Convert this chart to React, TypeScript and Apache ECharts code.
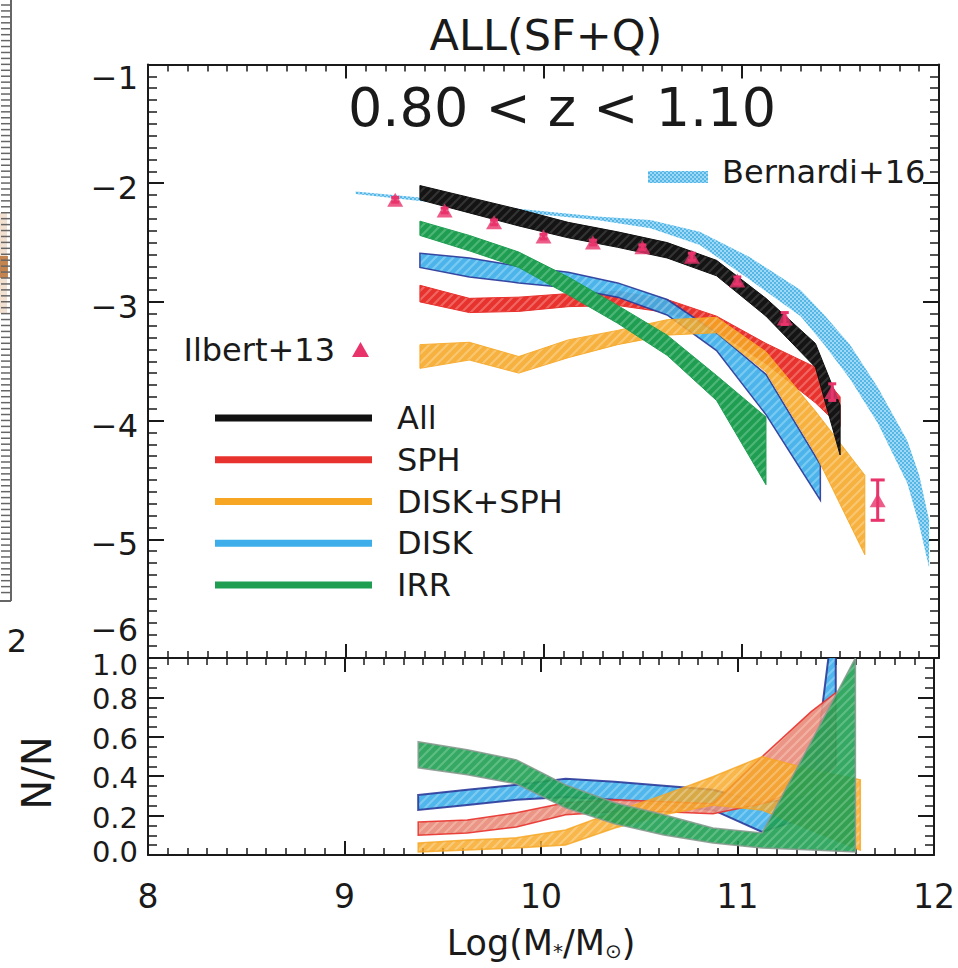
import React, { useEffect, useRef } from "react";
import * as echarts from "echarts";

const FONT = "DejaVu Sans";
const INK = "#1a1a1a";
const PINK = "#e8336b";

// ---- stellar-mass grids, log(M*/Msun) ----
const binsAll = [9.375, 9.625, 9.875, 10.125, 10.375, 10.625, 10.875, 11.125, 11.375, 11.5];
const binsDiskSph = [9.375, 9.625, 9.875, 10.125, 10.375, 10.625, 10.875, 11.125, 11.375, 11.625];
const binsDisk = [9.375, 9.625, 9.875, 10.125, 10.375, 10.625, 10.875, 11.125, 11.4];
const binsIrr = [9.375, 9.625, 9.875, 10.125, 10.375, 10.625, 10.875, 11.125];
const fracBinsIrr = [9.375, 9.625, 9.875, 10.125, 10.375, 10.625, 10.875, 11.125, 11.375, 11.6];

// ---- log Phi envelopes (upper / lower) ----
const allHi = [-2.02, -2.12, -2.22, -2.33, -2.41, -2.5, -2.65, -2.97, -3.35, -3.87];
const allLo = [-2.14, -2.25, -2.36, -2.46, -2.54, -2.63, -2.78, -3.12, -3.55, -4.29];
const sphHi = [-2.86, -2.97, -2.96, -2.93, -2.91, -2.98, -3.12, -3.35, -3.55, -3.8];
const sphLo = [-3.0, -3.09, -3.08, -3.04, -3.03, -3.09, -3.25, -3.52, -3.85, -4.05];
const diskSphHi = [-3.36, -3.34, -3.46, -3.32, -3.24, -3.15, -3.13, -3.42, -3.92, -4.46];
const diskSphLo = [-3.56, -3.49, -3.6, -3.47, -3.36, -3.28, -3.26, -3.59, -4.28, -5.13];
const diskHi = [-2.59, -2.63, -2.7, -2.75, -2.84, -2.98, -3.26, -3.61, -4.37];
const diskLo = [-2.71, -2.79, -2.84, -2.88, -2.96, -3.11, -3.41, -3.95, -4.67];
const irrHi = [-2.32, -2.44, -2.58, -2.79, -3.03, -3.28, -3.62, -3.97];
const irrLo = [-2.44, -2.57, -2.71, -2.94, -3.18, -3.45, -3.83, -4.54];

// ---- Bernardi+16 ----
const bernardiX = [9.05, 9.375, 9.78, 10.27, 10.54, 10.79, 11.04, 11.3, 11.42, 11.55, 11.69, 11.84, 11.9, 11.95];
const bernardiHi = [-2.07, -2.12, -2.2, -2.28, -2.31, -2.41, -2.62, -2.9, -3.11, -3.36, -3.72, -4.17, -4.46, -4.84];
const bernardiLo = [-2.09, -2.15, -2.23, -2.31, -2.38, -2.52, -2.81, -3.12, -3.36, -3.65, -4.02, -4.53, -4.88, -5.24];

// ---- Ilbert+13 ----
const ilbertX = [9.25, 9.5, 9.75, 10.0, 10.25, 10.5, 10.75, 10.98, 11.22, 11.46, 11.69];
const ilbertY = [-2.14, -2.23, -2.33, -2.45, -2.5, -2.54, -2.62, -2.82, -3.14, -3.76, -4.67];
const ilbertErr = [0.02, 0.02, 0.02, 0.02, 0.02, 0.02, 0.03, 0.03, 0.05, 0.07, 0.17];

// ---- fractions N/N ----
const sphFracHi = [0.168, 0.178, 0.214, 0.265, 0.28, 0.27, 0.26, 0.499, 0.728, 0.824];
const sphFracLo = [0.1, 0.112, 0.142, 0.204, 0.219, 0.22, 0.21, 0.26, 0.35, 0.45];
const diskFracHi = [0.305, 0.331, 0.356, 0.387, 0.372, 0.351, 0.331, 0.265, 0.3, 1.3];
const diskFracLo = [0.229, 0.254, 0.28, 0.295, 0.28, 0.254, 0.229, 0.117, 0.2, 0.82];
const diskSphFracHi = [0.061, 0.076, 0.087, 0.127, 0.219, 0.305, 0.397, 0.499, 0.433, 0.382];
const diskSphFracLo = [0.015, 0.025, 0.036, 0.051, 0.137, 0.204, 0.254, 0.229, 0.127, 0.025];
const irrFracHi = [0.575, 0.534, 0.483, 0.356, 0.265, 0.204, 0.137, 0.112, 0.575, 1.0];
const irrFracLo = [0.443, 0.407, 0.361, 0.239, 0.158, 0.102, 0.061, 0.036, 0.025, 0.015];

const legendNames = ["All", "SPH", "DISK+SPH", "DISK", "IRR"];
const legendColors = ["#111111", "#e8322e", "#f6a623", "#3daee9", "#1f9e52"];

function hatch(base: string, stripe: string, size = 9, lw = 2.2) {
  const c = document.createElement("canvas");
  c.width = size;
  c.height = size;
  const g = c.getContext("2d")!;
  g.fillStyle = base;
  g.fillRect(0, 0, size, size);
  g.strokeStyle = stripe;
  g.lineWidth = lw;
  g.beginPath();
  g.moveTo(-size / 2, size / 2);
  g.lineTo(size / 2, -size / 2);
  g.moveTo(0, size);
  g.lineTo(size, 0);
  g.moveTo(size / 2, size * 1.5);
  g.lineTo(size * 1.5, size / 2);
  g.stroke();
  return { image: c, repeat: "repeat", imageWidth: size, imageHeight: size };
}

function dots(base: string, dot: string) {
  const c = document.createElement("canvas");
  c.width = 4;
  c.height = 4;
  const g = c.getContext("2d")!;
  g.fillStyle = base;
  g.fillRect(0, 0, 4, 4);
  g.fillStyle = dot;
  g.fillRect(0, 0, 2, 2);
  g.fillRect(2, 2, 2, 2);
  return { image: c, repeat: "repeat", imageWidth: 4, imageHeight: 4 };
}

function band(
  name: string,
  xs: number[],
  lo: number[],
  hi: number[],
  o: { xi: number; yi: number; z: number; fill: any; stroke?: string; lw?: number; opacity?: number; color: string }
) {
  return {
    type: "custom",
    name,
    xAxisIndex: o.xi,
    yAxisIndex: o.yi,
    z: o.z,
    clip: true,
    silent: true,
    itemStyle: { color: o.color },
    data: xs.map((x, i) => [x, lo[i], hi[i]]),
    encode: { x: 0, y: [1, 2] },
    renderItem: (params: any, api: any) => {
      if (params.dataIndexInside !== 0) return null;
      const n = params.dataInsideLength;
      const top: number[][] = [];
      const bot: number[][] = [];
      for (let i = 0; i < n; i++) {
        const x = api.value(0, i);
        top.push(api.coord([x, api.value(2, i)]));
        bot.push(api.coord([x, api.value(1, i)]));
      }
      return {
        type: "polygon",
        shape: { points: top.concat(bot.reverse()) },
        style: {
          fill: o.fill,
          stroke: o.stroke || "none",
          lineWidth: o.lw || 0,
          opacity: o.opacity == null ? 1 : o.opacity,
        },
      };
    },
  };
}

const minus = (v: number) => (v < 0 ? "\u2212" + Math.abs(v) : String(v));

function xAxisDef(gridIndex: number, position: string, withLabels: boolean, extra: any = {}) {
  return {
    type: "value",
    gridIndex,
    position,
    min: 8,
    max: 12,
    interval: 1,
    axisLine: { show: true, onZero: false, lineStyle: { color: INK, width: 2 } },
    axisTick: { show: true, inside: true, length: 14, lineStyle: { color: INK, width: 2 } },
    minorTick: { show: true, splitNumber: 10, length: 7, lineStyle: { color: INK, width: 1.5 } },
    splitLine: { show: false },
    minorSplitLine: { show: false },
    axisLabel: {
      show: withLabels,
      showMinLabel: true,
      showMaxLabel: true,
      fontFamily: FONT,
      fontSize: 33,
      color: INK,
      margin: 25,
    },
    ...extra,
  };
}

function yAxisDef(gridIndex: number, position: string, min: number, max: number, interval: number, minorSplit: number, label: any) {
  return {
    type: "value",
    gridIndex,
    position,
    min,
    max,
    interval,
    axisLine: { show: true, onZero: false, lineStyle: { color: INK, width: 2 } },
    axisTick: { show: true, inside: true, length: 16, lineStyle: { color: INK, width: 2 } },
    minorTick: { show: true, splitNumber: minorSplit, length: 9, lineStyle: { color: INK, width: 1.5 } },
    splitLine: { show: false },
    minorSplitLine: { show: false },
    axisLabel: { showMinLabel: true, showMaxLabel: true, ...label },
  };
}

// tick-label token, padded to nudge the glyphs off their tick
const lbl = (pad: number[], size = 32) => ({
  fontFamily: FONT,
  fontSize: size,
  color: INK,
  padding: pad,
});

const FRAC_FONT = 29;

export default function App() {
  const ref = useRef<HTMLDivElement>(null);

  useEffect(() => {
    if (!ref.current) return;
    const chart = echarts.init(ref.current, undefined, { renderer: "svg" });

    const fills = {
      all: hatch("#141414", "#333333"),
      sph: hatch("#e8322e", "#ef6660"),
      dsph: hatch("#f6a623", "#f8bf5e"),
      disk: hatch("#3daee9", "#6ec5f0"),
      irr: hatch("#1f9e52", "#4db676"),
      bern: dots("#9fd8f4", "#55b7e6"),
    };

    const legendGraphics: any[] = [];
    legendNames.forEach((nm, i) => {
      const y = 418 + i * 41.75;
      legendGraphics.push({
        type: "line",
        shape: { x1: 215, y1: y, x2: 372, y2: y },
        style: { stroke: legendColors[i], lineWidth: 7 },
      });
      legendGraphics.push({
        type: "text",
        x: 397,
        y,
        style: { text: nm, font: `32px '${FONT}'`, fill: INK, verticalAlign: "middle", align: "left" },
      });
    });

    // right-hand frame of the neighbouring panel peeking in at the left edge
    const sliver: any[] = [
      { type: "line", shape: { x1: 11, y1: 0, x2: 11, y2: 601 }, style: { stroke: "#666", lineWidth: 2 } },
      { type: "line", shape: { x1: 0, y1: 601, x2: 11, y2: 601 }, style: { stroke: "#666", lineWidth: 2 } },
      { type: "rect", shape: { x: 0, y: 213, width: 7, height: 100 }, style: { fill: "#d9a57a", opacity: 0.35 } },
      { type: "rect", shape: { x: 0, y: 256, width: 8, height: 22 }, style: { fill: "#b86d2e", opacity: 0.8 } },
      {
        type: "text",
        x: 27,
        y: 641,
        style: { text: "2", font: `32px '${FONT}'`, fill: INK, align: "right", verticalAlign: "middle" },
      },
    ];
    for (let k = 0; k < 120; k++) {
      const y = 5 + k * 5.935;
      if (y > 598) break;
      sliver.push({
        type: "line",
        shape: { x1: 1, y1: y, x2: 11, y2: y },
        style: { stroke: "#666", lineWidth: 1.5 },
      });
    }

    const hidden = { show: false };

    const option: any = {
      animation: false,
      backgroundColor: "#ffffff",
      textStyle: { fontFamily: FONT },
      title: {
        text: "ALL(SF+Q)",
        left: 541,
        top: 8,
        textAlign: "center",
        textStyle: { fontFamily: FONT, fontSize: 43, fontWeight: "normal", color: INK, lineHeight: 44 },
      },
      grid: [
        { left: 148, right: 19, top: 64.5, height: 593.5 },
        { left: 148, right: 19, top: 658, height: 197 },
      ],
      xAxis: [
        xAxisDef(0, "bottom", false),
        xAxisDef(0, "top", false),
        xAxisDef(1, "bottom", true, {
          name: "Log(M{s|*}/M{s|\u2299})",
          nameLocation: "middle",
          nameGap: 70,
          nameTextStyle: {
            fontFamily: FONT,
            fontSize: 35,
            color: INK,
            rich: { s: { fontFamily: FONT, fontSize: 20, color: INK, padding: [16, 0, 0, 0] } },
          },
        }),
        xAxisDef(1, "top", false),
      ],
      yAxis: [
        yAxisDef(0, "left", -6, -1, 1, 10, {
          show: true,
          margin: 10,
          formatter: (v: number) => {
            const s = minus(v);
            if (v === -1) return `{t|${s}}`;
            if (v === -6) return `{b|${s}}`;
            return `{m|${s}}`;
          },
          rich: { t: lbl([26, 0, 0, 0]), b: lbl([0, 0, 56, 0]), m: lbl([10, 0, 0, 0]) },
        }),
        yAxisDef(0, "right", -6, -1, 1, 10, { show: false }),
        // inner fraction labels 0.2 ... 0.8
        yAxisDef(1, "left", 0, 1, 0.2, 4, {
          show: true,
          margin: 10,
          formatter: (v: number) => (v > 0.01 && v < 0.99 ? `{m|${v.toFixed(1)}}` : ""),
          rich: { m: lbl([4, 0, 0, 0], FRAC_FONT) },
        }),
        yAxisDef(1, "right", 0, 1, 0.2, 4, { show: false }),
        // end fraction labels 0.0 and 1.0, nudged inward
        {
          type: "value",
          gridIndex: 1,
          position: "left",
          min: 0,
          max: 1,
          interval: 1,
          axisLine: hidden,
          axisTick: hidden,
          minorTick: hidden,
          splitLine: hidden,
          axisLabel: {
            show: true,
            showMinLabel: true,
            showMaxLabel: true,
            margin: 10,
            formatter: (v: number) => (v > 0.5 ? `{t|${v.toFixed(1)}}` : `{b|${v.toFixed(1)}}`),
            rich: { t: lbl([14, 0, 0, 0], FRAC_FONT), b: lbl([0, 0, 6, 0], FRAC_FONT) },
          },
        },
      ],
      graphic: [
        {
          type: "text",
          x: 562,
          y: 107,
          style: {
            text: "0.80 < z < 1.10",
            font: `54px '${FONT}'`,
            fill: INK,
            align: "center",
            verticalAlign: "middle",
          },
        },
        ...legendGraphics,
        { type: "rect", shape: { x: 648, y: 171, width: 60, height: 12 }, style: { fill: fills.bern } },
        {
          type: "text",
          x: 722,
          y: 172,
          style: { text: "Bernardi+16", font: `32px '${FONT}'`, fill: INK, align: "left", verticalAlign: "middle" },
        },
        {
          type: "text",
          x: 335,
          y: 350,
          style: { text: "Ilbert+13", font: `32px '${FONT}'`, fill: INK, align: "right", verticalAlign: "middle" },
        },
        {
          type: "polygon",
          shape: { points: [[352, 357], [369, 357], [360.5, 342]] },
          style: { fill: PINK },
        },
        {
          type: "text",
          x: 37,
          y: 773,
          rotation: Math.PI / 2,
          style: { text: "N/N", font: `40px '${FONT}'`, fill: INK, align: "center", verticalAlign: "middle" },
        },
        ...sliver,
      ],
      series: [
        // upper panel: log Phi
        band("Bernardi+16", bernardiX, bernardiLo, bernardiHi, { xi: 0, yi: 0, z: 1, fill: fills.bern, color: "#7fcdf0" }),
        band("SPH", binsAll, sphLo, sphHi, { xi: 0, yi: 0, z: 2, fill: fills.sph, stroke: "#e8322e", lw: 1, color: "#e8322e" }),
        band("DISK", binsDisk, diskLo, diskHi, {
          xi: 0, yi: 0, z: 3, fill: fills.disk, stroke: "#2b3a9a", lw: 1.5, opacity: 0.92, color: "#3daee9",
        }),
        band("DISK+SPH", binsDiskSph, diskSphLo, diskSphHi, {
          xi: 0, yi: 0, z: 4, fill: fills.dsph, stroke: "#f6a623", lw: 1, opacity: 0.88, color: "#f6a623",
        }),
        band("IRR", binsIrr, irrLo, irrHi, { xi: 0, yi: 0, z: 5, fill: fills.irr, stroke: "#1f9e52", lw: 1, color: "#1f9e52" }),
        band("All", binsAll, allLo, allHi, { xi: 0, yi: 0, z: 6, fill: fills.all, stroke: "#111", lw: 1, color: "#111" }),
        {
          type: "custom",
          name: "Ilbert+13 errors",
          xAxisIndex: 0,
          yAxisIndex: 0,
          z: 7,
          silent: true,
          data: ilbertX.map((x, i) => [x, ilbertY[i], ilbertErr[i]]),
          encode: { x: 0, y: 1 },
          renderItem: (_p: any, api: any) => {
            const x = api.value(0);
            const y = api.value(1);
            const e = api.value(2);
            const a = api.coord([x, y + e]);
            const b = api.coord([x, y - e]);
            const w = e > 0.1 ? 7 : 4;
            const st = { stroke: PINK, lineWidth: 3 };
            return {
              type: "group",
              children: [
                { type: "line", shape: { x1: a[0], y1: a[1], x2: b[0], y2: b[1] }, style: st },
                { type: "line", shape: { x1: a[0] - w, y1: a[1], x2: a[0] + w, y2: a[1] }, style: st },
                { type: "line", shape: { x1: b[0] - w, y1: b[1], x2: b[0] + w, y2: b[1] }, style: st },
              ],
            };
          },
        },
        {
          type: "scatter",
          name: "Ilbert+13",
          xAxisIndex: 0,
          yAxisIndex: 0,
          z: 8,
          symbol: "triangle",
          symbolSize: [16, 14],
          itemStyle: { color: PINK },
          data: ilbertX.map((x, i) => [x, ilbertY[i]]),
        },
        // lower panel: fractions
        band("DISK frac", binsAll, diskFracLo, diskFracHi, {
          xi: 2, yi: 2, z: 2, fill: fills.disk, stroke: "#2b3a9a", lw: 2, opacity: 0.9, color: "#3daee9",
        }),
        band("SPH frac", binsAll, sphFracLo, sphFracHi, {
          xi: 2, yi: 2, z: 3, fill: hatch("#e88a78", "#f0a898"), stroke: "#e8322e", lw: 1.5, opacity: 0.9, color: "#e8322e",
        }),
        band("DISK+SPH frac", binsDiskSph, diskSphFracLo, diskSphFracHi, {
          xi: 2, yi: 2, z: 4, fill: fills.dsph, stroke: "#f6a623", lw: 1.5, opacity: 0.82, color: "#f6a623",
        }),
        band("IRR frac", fracBinsIrr, irrFracLo, irrFracHi, {
          xi: 2, yi: 2, z: 5, fill: fills.irr, stroke: "#8a9a90", lw: 1.5, opacity: 0.9, color: "#1f9e52",
        }),
      ],
    };

    chart.setOption(option);
    return () => chart.dispose();
  }, []);

  return (
    <div
      ref={ref}
      style={{ position: "fixed", left: 0, top: 0, width: 958, height: 968, background: "#fff" }}
    />
  );
}
